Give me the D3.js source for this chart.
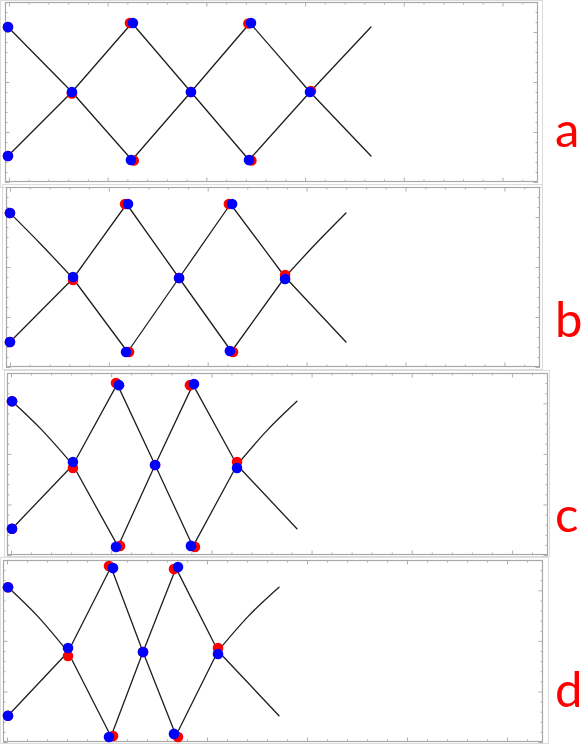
<!DOCTYPE html>
<html>
<head>
<meta charset="utf-8">
<script src="https://cdn.jsdelivr.net/npm/d3@7"></script>
<style>
  html, body { margin: 0; padding: 0; background: #fff; }
  svg { display: block; }
</style>
</head>
<body>
<svg id="chart" width="581" height="744"></svg>
<script>
// ---------- data (x in frame units 0..27, y in frame units 0..18) ----------
const panelLabels = ["a", "b", "c", "d"];

// panel a
const aLineA = [[0.15,15.5],[3.39,9.0],[6.43,2.2],[9.42,9.0],[12.41,15.9],[15.45,9.0],[18.54,2.6]];
const aLineB = [[0.15,2.6],[3.39,9.0],[6.43,15.9],[9.42,9.0],[12.36,2.2],[15.45,9.0],[18.54,15.5]];
const aBendA = [];
const aBendB = [];
const aBlue  = [[0.15,15.5],[0.15,2.6],[3.39,9.0],[6.48,15.9],[6.38,2.2],[9.42,9.0],[12.46,15.9],[12.36,2.2],[15.45,9.0]];
const aRed   = [[0.15,15.5],[0.15,2.6],[3.39,8.85],[6.33,15.9],[6.52,2.15],[9.42,9.0],[12.33,15.85],[12.48,2.15],[15.5,9.1]];

// panel b
const bLineA = [[0.2,15.4],[3.39,8.85],[6.15,1.5],[8.75,8.9],[11.35,16.3],[14.11,9.0],[17.19,2.5]];
const bLineB = [[0.2,2.5],[3.39,8.85],[6.1,16.3],[8.75,8.9],[11.4,1.55],[14.11,9.0],[17.19,15.4]];
const bBendA = [[1.8,12.2]];
const bBendB = [[15.65,12.3]];
const bBlue  = [[0.2,15.4],[0.2,2.5],[3.39,9.0],[6.17,16.3],[6.07,1.5],[8.75,8.9],[11.43,16.3],[11.32,1.6],[14.11,8.8]];
const bRed   = [[0.2,15.4],[0.2,2.5],[3.39,8.7],[6.02,16.3],[6.22,1.5],[8.75,8.9],[11.27,16.3],[11.48,1.5],[14.11,9.2]];

// panel c
const cLineA = [[0.25,15.2],[3.29,8.9],[5.54,0.85],[7.39,8.9],[9.28,16.85],[11.48,8.9],[14.47,2.6]];
const cLineB = [[0.25,2.6],[3.29,8.9],[5.5,16.9],[7.39,8.9],[9.28,0.85],[11.48,8.9],[14.47,15.2]];
const cBendA = [[1.77,12.3]];
const cBendB = [[12.97,12.3]];
const cBlue  = [[0.25,15.2],[0.25,2.6],[3.29,9.2],[5.59,16.8],[5.44,0.8],[7.39,8.9],[9.33,16.9],[9.18,0.9],[11.48,8.6]];
const cRed   = [[0.25,15.2],[0.25,2.6],[3.29,8.6],[5.44,17.0],[5.64,0.9],[7.39,8.9],[9.13,16.8],[9.38,0.8],[11.48,9.2]];

// panel d
const dLineA = [[0.25,15.3],[3.25,8.9],[5.4,0.55],[7.0,8.9],[8.65,17.2],[10.75,9.0],[13.8,2.6]];
const dLineB = [[0.25,2.6],[3.25,8.9],[5.4,17.3],[7.0,8.9],[8.65,0.65],[10.75,9.0],[13.8,15.3]];
const dBendA = [[1.75,12.4]];
const dBendB = [[12.27,12.45]];
const dBlue  = [[0.25,15.3],[0.25,2.6],[3.25,9.3],[5.5,17.2],[5.3,0.5],[7.0,8.9],[8.75,17.3],[8.55,0.8],[10.75,8.7]];
const dRed   = [[0.25,15.3],[0.25,2.6],[3.25,8.5],[5.3,17.4],[5.5,0.6],[7.0,8.9],[8.55,17.1],[8.75,0.5],[10.75,9.3]];

const xTicks = d3.range(0.2, 27, 1);
const yTicks = d3.range(0, 18.01, 1);

// ---------- layout ----------
const panels = [
  { label: panelLabels[0], frame: [5, 2, 538, 182],   outer: [0, 0, 543, 188],   labelY: 147, lines: [[aLineA, aBendA], [aLineB, aBendB]], blue: aBlue, red: aRed },
  { label: panelLabels[1], frame: [6, 187, 540, 367], outer: [2, 184, 543, 370], labelY: 337, lines: [[bLineA, bBendA], [bLineB, bBendB]], blue: bBlue, red: bRed },
  { label: panelLabels[2], frame: [7, 373, 548, 555], outer: [4, 370, 550, 557], labelY: 532, lines: [[cLineA, cBendA], [cLineB, cBendB]], blue: cBlue, red: cRed },
  { label: panelLabels[3], frame: [3, 560, 543, 742], outer: [0, 557, 549, 744], labelY: 707, lines: [[dLineA, dBendA], [dLineB, dBendB]], blue: dBlue, red: dRed }
];

// break a polyline into segments; a segment that holds a bend point becomes a 3-point arc
function segments(pts, bends) {
  const out = [];
  for (let i = 0; i < pts.length - 1; i++) {
    const p0 = pts[i], p1 = pts[i + 1];
    const lo = Math.min(p0[0], p1[0]), hi = Math.max(p0[0], p1[0]);
    const bend = bends.find(q => q[0] > lo && q[0] < hi);
    out.push(bend ? [p0, bend, p1] : [p0, p1]);
  }
  return out;
}

const svg = d3.select("#chart");

panels.forEach(p => {
  const [l, t, r, b] = p.frame;
  const x = d3.scaleLinear().domain([0, 27]).range([l, r]);
  const y = d3.scaleLinear().domain([0, 18]).range([b, t]);
  const g = svg.append("g");

  // outer image border
  const [ol, ot, or, ob] = p.outer;
  g.append("rect").attr("x", ol + 0.5).attr("y", ot + 0.5)
    .attr("width", or - ol - 1).attr("height", ob - ot - 1)
    .attr("fill", "none").attr("stroke", "#dcdcdc").attr("stroke-width", 1);

  const styleAxis = sel => {
    sel.select(".domain").remove();
    sel.selectAll(".tick line").attr("stroke", "#9a9a9a").attr("stroke-width", 0.8);
  };
  const isMajorX = v => Math.abs(((v - 0.2) % 5)) < 1e-6;
  const isMajorY = v => Math.abs(v % 5) < 1e-6;

  const top = g.append("g").attr("transform", `translate(0,${t})`)
    .call(d3.axisBottom(x).tickValues(xTicks).tickSize(2.5).tickFormat(""));
  top.call(styleAxis);
  top.selectAll(".tick line").attr("y2", d => isMajorX(d) ? 4.5 : 2.5);

  const bot = g.append("g").attr("transform", `translate(0,${b})`)
    .call(d3.axisTop(x).tickValues(xTicks).tickSize(2.5).tickFormat(""));
  bot.call(styleAxis);
  bot.selectAll(".tick line").attr("y2", d => isMajorX(d) ? -4.5 : -2.5);

  const lef = g.append("g").attr("transform", `translate(${l},0)`)
    .call(d3.axisRight(y).tickValues(yTicks).tickSize(2.5).tickFormat(""));
  lef.call(styleAxis);
  lef.selectAll(".tick line").attr("x2", d => isMajorY(d) ? 4.5 : 2.5);

  const rig = g.append("g").attr("transform", `translate(${r},0)`)
    .call(d3.axisLeft(y).tickValues(yTicks).tickSize(2.5).tickFormat(""));
  rig.call(styleAxis);
  rig.selectAll(".tick line").attr("x2", d => isMajorY(d) ? -4.5 : -2.5);

  // frame
  g.append("rect").attr("x", l + 0.5).attr("y", t + 0.5)
    .attr("width", r - l - 1).attr("height", b - t - 1)
    .attr("fill", "none").attr("stroke", "#a8a8a8").attr("stroke-width", 1.2);

  // lines
  const line = d3.line().x(d => x(d[0])).y(d => y(d[1])).curve(d3.curveNatural);
  const pieces = p.lines.flatMap(([pts, bends]) => segments(pts, bends));
  g.selectAll("path.curve").data(pieces).enter().append("path")
    .attr("class", "curve")
    .attr("d", line)
    .attr("fill", "none")
    .attr("stroke", "#1e1e1e")
    .attr("stroke-width", 1.3)
    .attr("stroke-linecap", "round");

  // red dots then blue dots
  g.selectAll("circle.red").data(p.red).enter().append("circle")
    .attr("class", "red")
    .attr("cx", d => x(d[0])).attr("cy", d => y(d[1])).attr("r", 5.3)
    .attr("fill", "#ff0000");
  g.selectAll("circle.blue").data(p.blue).enter().append("circle")
    .attr("class", "blue")
    .attr("cx", d => x(d[0])).attr("cy", d => y(d[1])).attr("r", 5.3)
    .attr("fill", "#0000ff");

  // panel label
  svg.append("text")
    .attr("x", 555).attr("y", p.labelY)
    .attr("font-family", "Lato, 'Open Sans', sans-serif")
    .attr("font-size", 49)
    .attr("fill", "#ff0000")
    .text(p.label);
});
</script>
</body>
</html>
